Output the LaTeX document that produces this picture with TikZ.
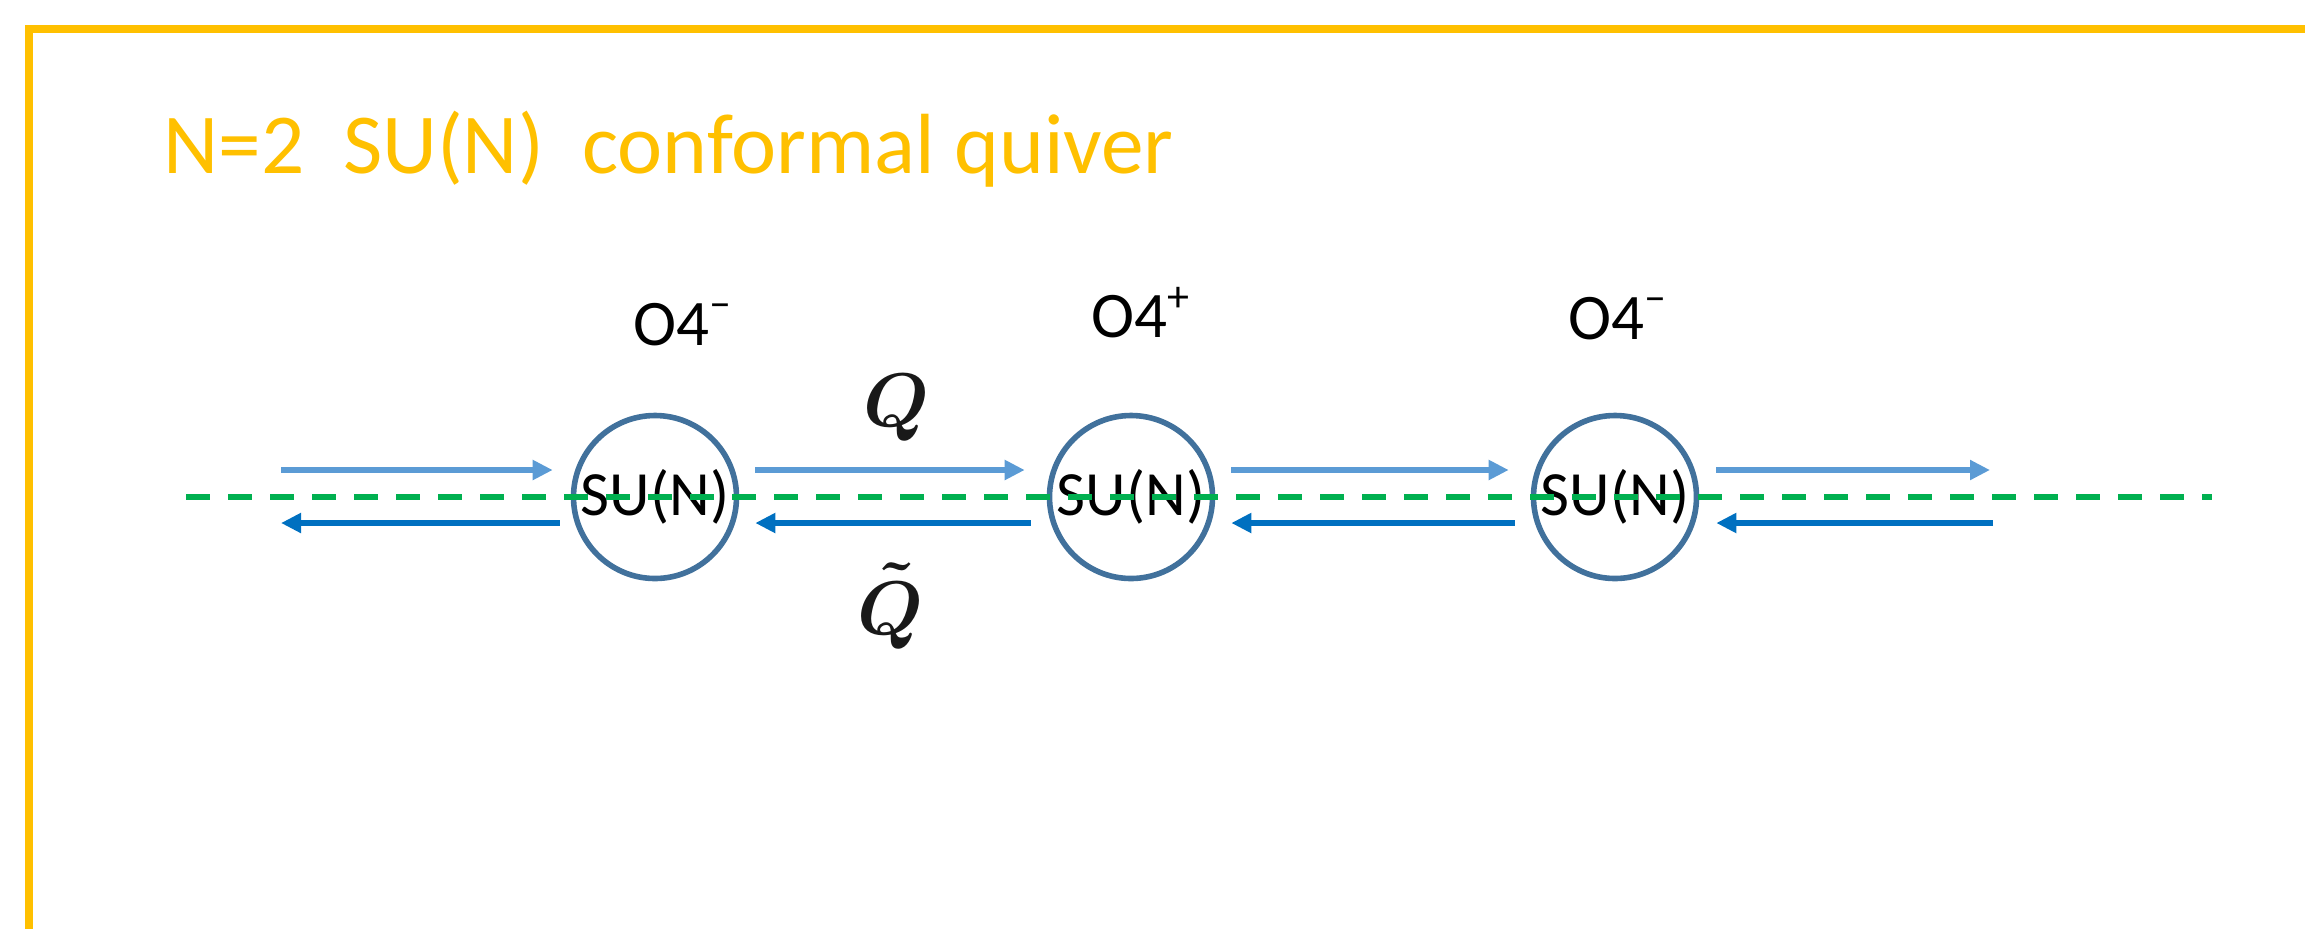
\RequirePackage{fix-cm}
\documentclass[tikz,border=0pt]{standalone}
\usepackage{fontspec}
\setmainfont{Carlito}
\usetikzlibrary{arrows.meta,positioning}

\definecolor{or}{HTML}{FFC000}
\definecolor{bord}{HTML}{41719C}
\definecolor{bleuclair}{HTML}{5B9BD5}
\definecolor{bleufonce}{HTML}{0070C0}
\definecolor{vert}{HTML}{00B050}

\begin{document}
\begin{tikzpicture}[x=0.5pt,y=-0.5pt,
	groupe/.style={circle,draw=bord,line width=2.8pt,minimum size=81.5pt,inner sep=0pt,font=\fontsize{31.5}{36}\selectfont},
	haut/.style={bleuclair,line width=2.9pt,-{Triangle[length=10pt,width=9.5pt]}},
	bas/.style={bleufonce,line width=2.9pt,-{Triangle[length=10pt,width=9.5pt]}},
	olab/.style={anchor=base west,inner sep=0pt,font=\fontsize{32.5}{38}\selectfont},
	quark/.style={inner sep=0pt,text=black!90,font=\fontsize{38}{42}\selectfont\boldmath}]
		\useasboundingbox (0,0) rectangle (2305,928);
		\clip (0,0) rectangle (2305,928);

		% Cadre et titre
		\draw[or,line width=4pt] (2400,29) -- (29,29) -- (29,1000);
		\node[or,anchor=base west,inner sep=0pt,font=\fontsize{42.7}{50}\selectfont] (titre) at (163,173) {N=2\ \ SU(N)\ \ conformal quiver};

		% Noeuds
		\node[groupe] (g1) at (655,497) {SU(N)};
		\node[groupe] (g2) at (1131,497) {SU(N)};
		\node[groupe] (g3) at (1615,497) {SU(N)};

		\node[olab] (o1) at (633,345) {O4\raisebox{0.42em}{\fontsize{22}{24}\selectfont –}};
		\node[olab] (o2) at (1091,337) {O4\raisebox{0.4em}{\fontsize{22}{24}\selectfont +}};
		\node[olab] (o3) at (1568,339) {O4\raisebox{0.42em}{\fontsize{22}{24}\selectfont –}};

		% Fleches
		\coordinate (gauche) at (281,497);
		\coordinate (droite) at (1990,497);
		\draw[haut] ([shift={(0,-27)}]gauche) -- ([shift={(-18,-27)}]g1.west);
		\draw[bas] ([shift={(-11,26)}]g1.west) -- ([shift={(0,26)}]gauche);
		\foreach \a/\b in {g1/g2,g2/g3}
		{
			\draw[haut] ([shift={(16,-27)}]\a.east) -- ([shift={(-22,-27)}]\b.west);
			\draw[bas] ([shift={(-16,26)}]\b.west) -- ([shift={(16,26)}]\a.east);
		}
		\draw[haut] ([shift={(17,-27)}]g3.east) -- ([shift={(0,-27)}]droite);
		\draw[bas] ([shift={(3,26)}]droite) -- ([shift={(17,26)}]g3.east);

		\node[quark] (q) at (896,408) {$Q$};
		\node[quark] (qt) at (890,606) {$\tilde{Q}$};

		% Ligne pointillee
		\coordinate (dg) at (186,497);
		\coordinate (dd) at (2212,497);
		\draw[vert,line width=2.6pt,dash pattern=on 12pt off 9pt] (dg) -- (dd);

\end{tikzpicture}
\end{document}
